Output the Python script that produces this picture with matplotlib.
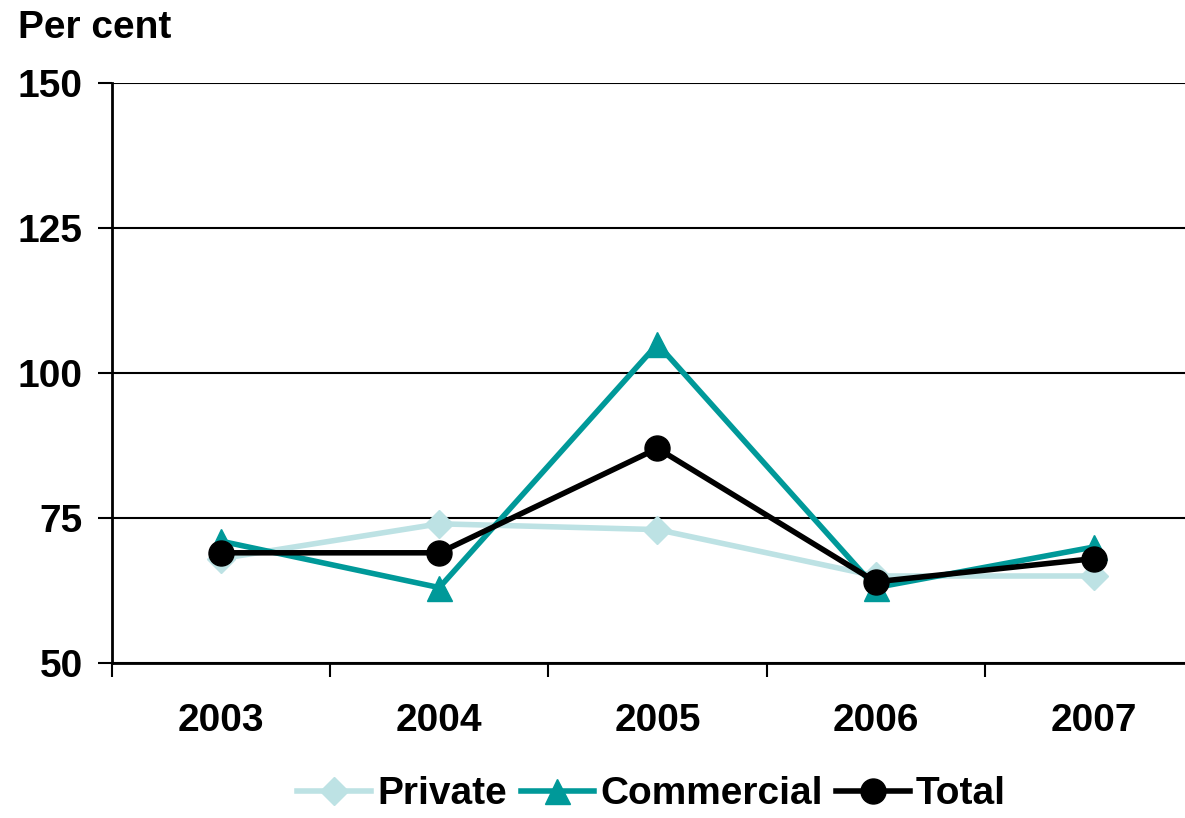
import matplotlib.pyplot as plt

years = ['2003', '2004', '2005', '2006', '2007']
private = [68, 74, 73, 65, 65]
commercial = [71, 63, 105, 63, 70]
total = [69, 69, 87, 64, 68]

plt.rcParams['font.family'] = ['Liberation Sans', 'DejaVu Sans']
plt.rcParams['font.weight'] = 'bold'

fig = plt.figure(figsize=(11.85, 8.18), dpi=100)
ax = fig.add_axes([112 / 1185, 1 - 663 / 818, 1091 / 1185, 580 / 818])

x = range(len(years))
ax.plot(x, private, color='#bde2e4', lw=4, marker='D', ms=14, label='Private', zorder=3)
ax.plot(x, commercial, color='#009999', lw=4, marker='^', ms=18, label='Commercial', zorder=4)
ax.plot(x, total, color='black', lw=4, marker='o', ms=18, label='Total', zorder=5)

ax.set_xlim(-0.5, len(years) - 0.5)
ax.set_ylim(50, 150)
ax.set_yticks([50, 75, 100, 125, 150])
ax.set_xticks(list(x))
ax.set_xticklabels(years)
ax.set_xticks([i - 0.5 for i in range(len(years) + 1)], minor=True)
ax.tick_params(axis='x', which='major', length=0, pad=29, labelsize=28)
ax.tick_params(axis='x', which='minor', length=10, width=1.5, direction='out')
ax.tick_params(axis='y', length=10, width=1.5, pad=11, labelsize=28)

ax.yaxis.grid(True, color='black', lw=1.5)
ax.set_axisbelow(True)
for s in ['top', 'right']:
    ax.spines[s].set_visible(False)
for s in ['left', 'bottom']:
    ax.spines[s].set_linewidth(2)

fig.text(18 / 1185, 1 - 10 / 818, 'Per cent', fontsize=28, va='top', ha='left')

fig.legend(loc='lower center', bbox_to_anchor=(0.55, -0.036), ncol=3, frameon=False,
           fontsize=28, handlelength=1.9, handletextpad=0.15, columnspacing=0.35)

fig.savefig('out.png', dpi=100)
